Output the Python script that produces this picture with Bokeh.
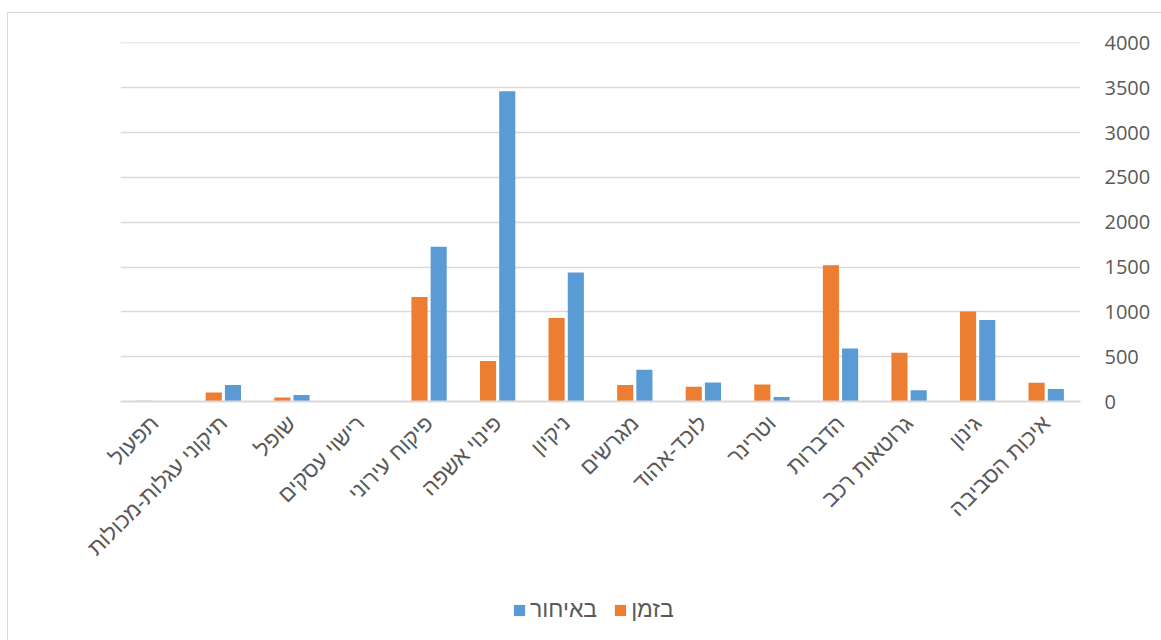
from bokeh.plotting import figure
from bokeh.models import ColumnDataSource, FactorRange, Legend, LegendItem, Range1d, FixedTicker
from bokeh.layouts import column
from bokeh.transform import dodge
from bokeh.embed import file_html
from bokeh.resources import INLINE
import math

categories = ["תפעול", "תיקוני עגלות-מכולות", "שופל", "רישוי עסקים", "פיקוח עירוני",
              "פינוי אשפה", "ניקיון", "מגרשים", "לוכד-אהוד", "וטרינר", "הדברות",
              "גרוטאות רכב", "גינון", "איכות הסביבה"]
on_time = [8, 100, 45, 0, 1165, 452, 930, 185, 165, 190, 1520, 545, 1005, 210]   # בזמן
late = [0, 185, 72, 0, 1725, 3460, 1440, 355, 212, 50, 590, 125, 910, 140]      # באיחור
y_ticks = [0, 500, 1000, 1500, 2000, 2500, 3000, 3500, 4000]
series_names = ["באיחור", "בזמן"]

ORANGE = "#ED7D31"
BLUE = "#5B9BD5"
HFONT = "Liberation Sans"
NFONT = "Open Sans"
GREY = "#595959"

src = ColumnDataSource(dict(cat=categories, on_time=on_time, late=late))

p = figure(width=1153, height=567, x_range=FactorRange(*categories), y_range=Range1d(0, 4004),
           output_backend="svg", toolbar_location=None, y_axis_location="right",
           min_border_left=112, min_border_right=81, min_border_top=29, min_border_bottom=179)
p.outline_line_color = None
p.background_fill_color = "white"
p.border_fill_color = "white"

r1 = p.vbar(x=dodge("cat", -0.14, range=p.x_range), top="on_time", width=0.235, source=src,
            fill_color=ORANGE, line_color=None)
r2 = p.vbar(x=dodge("cat", 0.14, range=p.x_range), top="late", width=0.235, source=src,
            fill_color=BLUE, line_color=None)

p.xgrid.grid_line_color = None
p.ygrid.grid_line_color = "#d9d9d9"
p.ygrid.grid_line_width = 1.3
p.yaxis.ticker = FixedTicker(ticks=y_ticks)
p.yaxis.axis_line_color = None
p.yaxis.major_tick_line_color = None
p.yaxis.minor_tick_line_color = None
p.yaxis.major_label_standoff = 18
p.yaxis.major_label_text_font = NFONT
p.yaxis.major_label_text_font_size = "20px"
p.yaxis.major_label_text_color = GREY

p.xaxis.axis_line_color = "#d9d9d9"
p.xaxis.axis_line_width = 2
p.xaxis.major_tick_line_color = None
p.xaxis.minor_tick_line_color = None
p.xaxis.major_label_orientation = math.pi / 4
p.xaxis.major_label_standoff = 12
p.xaxis.major_label_text_font = HFONT
p.xaxis.major_label_text_font_size = "22px"
p.xaxis.major_label_text_color = GREY
p.x_range.range_padding = 0
p.x_range.group_padding = 0

# legend strip below the chart (its bars fall far outside its own y range, only the legend shows)
q = figure(width=1153, height=60, output_backend="svg", toolbar_location=None,
           x_range=FactorRange(*categories), y_range=Range1d(90000, 90001),
           min_border=0, min_border_left=0, min_border_right=0, min_border_top=0, min_border_bottom=0)
q.axis.visible = False
q.grid.visible = False
q.outline_line_color = None
q.border_fill_color = "white"
q.background_fill_color = "white"
lg_late = q.vbar(x="cat", top="late", width=0.2, source=src, fill_color=BLUE, line_color=None)
lg_on = q.vbar(x="cat", top="on_time", width=0.2, source=src, fill_color=ORANGE, line_color=None)
legend = Legend(items=[LegendItem(label=series_names[0], renderers=[lg_late]),
                       LegendItem(label=series_names[1], renderers=[lg_on])],
                orientation="horizontal", location=(392, 17),
                label_text_font=HFONT, label_text_font_size="23px", label_text_color=GREY,
                glyph_width=14, glyph_height=14, spacing=16, label_standoff=4,
                padding=4, margin=0,
                border_line_color=None, background_fill_alpha=0)
q.add_layout(legend, "center")

layout = column(p, q, spacing=0, margin=(12, 0, 0, 7),
                styles={"border-left": "1px solid #d9d9d9", "border-top": "1px solid #d9d9d9"})
open("out.html", "w").write(file_html(layout, INLINE))
